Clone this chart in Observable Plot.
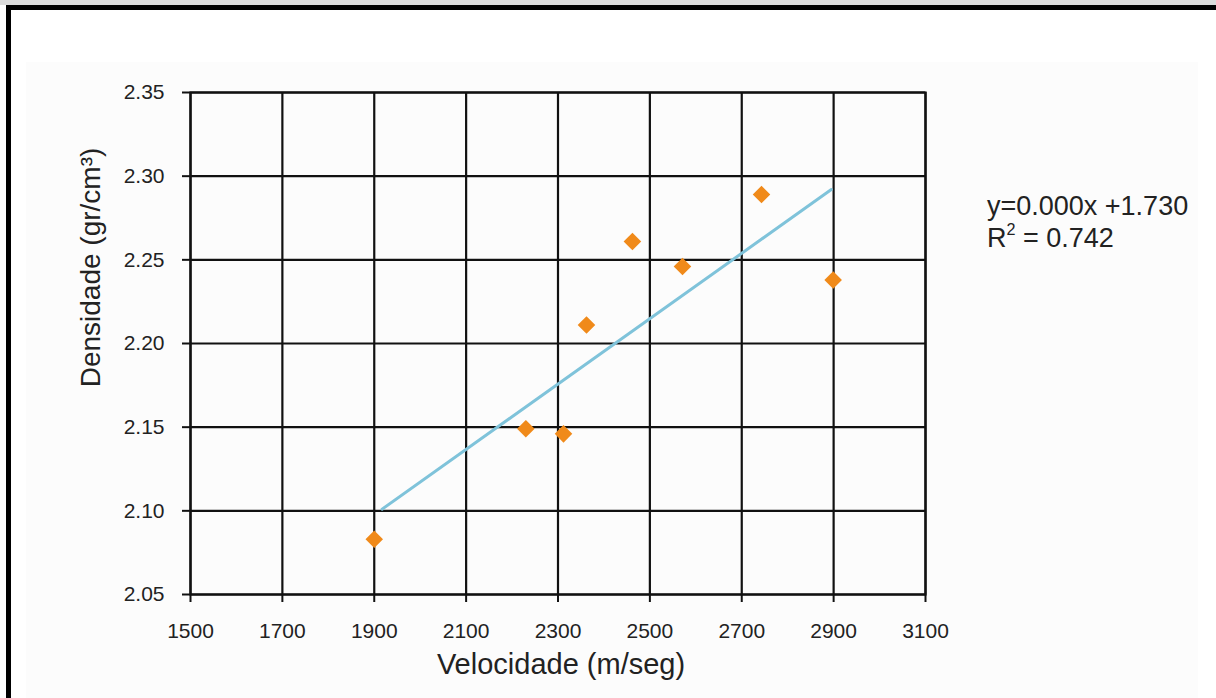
<!DOCTYPE html>
<html>
<head>
<meta charset="utf-8">
<script src="https://cdn.jsdelivr.net/npm/d3@7"></script>
<script src="https://cdn.jsdelivr.net/npm/@observablehq/plot@0.6"></script>
<style>
  html, body { margin: 0; padding: 0; background: #fff; }
  #wrap { position: relative; width: 1216px; height: 698px; overflow: hidden; font-family: "Liberation Sans", Arial, sans-serif; }
  #strip { position: absolute; left: 0; top: 0; width: 1216px; height: 5px; background: #dcdcdc; }
  #frame { position: absolute; left: 6px; top: 5px; width: 1400px; height: 900px; border: 5px solid #000; background: #fff; }
  #panel { position: absolute; left: 26px; top: 62px; width: 1172px; height: 700px; background: #fcfcfc; }
  #chart { position: absolute; left: 0; top: 0; }
  #eq { position: absolute; left: 987px; top: 190px; font-size: 27px; line-height: 32px; color: #222; white-space: nowrap; }
  #eq .sup { font-size: 0.6em; position: relative; top: -0.75em; line-height: 0; vertical-align: baseline; }
</style>
</head>
<body>
<div id="wrap">
  <div id="strip"></div>
  <div id="frame"></div>
  <div id="panel"></div>
  <div id="chart"></div>
  <div id="eq">y=0.000x +1.730<br>R<span class="sup">2</span> = 0.742</div>
</div>
<script>
const velocidade = [1900, 2230, 2312, 2362, 2462, 2571, 2743, 2899];
const densidade = [2.083, 2.149, 2.146, 2.211, 2.261, 2.246, 2.289, 2.238];
const trendX = [1917, 2895];
const trendY = [2.101, 2.292];
const xTicks = [1500, 1700, 1900, 2100, 2300, 2500, 2700, 2900, 3100];
const yTicks = [2.05, 2.10, 2.15, 2.20, 2.25, 2.30, 2.35];
const xTitle = "Velocidade (m/seg)";
const yTitle = "Densidade (gr/cm³)";

const points = velocidade.map((v, i) => ({x: v, y: densidade[i]}));
const trend = trendX.map((v, i) => ({x: v, y: trendY[i]}));

const gridColor = "#111";
const chart = Plot.plot({
  width: 1216,
  height: 698,
  marginLeft: 190,
  marginRight: 291,
  marginTop: 92,
  marginBottom: 104,
  style: {background: "transparent", fontFamily: "'Liberation Sans', Arial, sans-serif", fontSize: "21px", color: "#222"},
  x: {domain: [1500, 3100]},
  y: {domain: [2.05, 2.35]},
  marks: [
    Plot.gridX(xTicks, {stroke: gridColor, strokeOpacity: 1, strokeWidth: 2.2}),
    Plot.gridY(yTicks, {stroke: gridColor, strokeOpacity: 1, strokeWidth: 2.2}),
    Plot.frame({stroke: gridColor, strokeWidth: 2.2}),
    Plot.axisX(xTicks, {tickSize: 8, tickPadding: 21, fontSize: 21, strokeWidth: 2, stroke: gridColor, tickFormat: d => String(d), label: null}),
    Plot.axisY(yTicks, {tickSize: 8, tickPadding: 18, fontSize: 21, strokeWidth: 2, stroke: gridColor, tickFormat: d => d.toFixed(2), label: null}),
    Plot.line(trend, {x: "x", y: "y", stroke: "#7fc3da", strokeWidth: 3}),
    Plot.dot(points, {x: "x", y: "y", symbol: "square", rotate: 45, r: 7, fill: "#f08a1a", stroke: "none"}),
    Plot.text([xTitle], {text: d => d, frameAnchor: "bottom", dx: 3, dy: 79, fontSize: 29, fill: "#222"}),
    Plot.text([yTitle], {text: d => d, frameAnchor: "left", textAnchor: "middle", dx: -99, dy: -76, rotate: -90, fontSize: 28, fill: "#222"})
  ]
});
document.getElementById("chart").appendChild(chart);
</script>
</body>
</html>
